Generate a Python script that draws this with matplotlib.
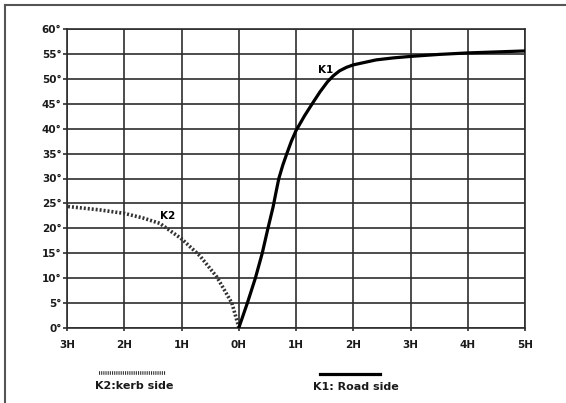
import numpy as np
import matplotlib.pyplot as plt
from matplotlib.lines import Line2D

# K1: road side (H distance, angle in degrees)
k1_h = [0, 0.15, 0.29, 0.41, 0.51, 0.60, 0.65, 0.70, 0.77, 0.84, 0.92, 1.0, 1.15,
        1.30, 1.42, 1.55, 1.65, 1.76, 1.88, 2.0, 2.2, 2.4, 2.7, 3.0, 3.5, 4.0,
        4.5, 5.0]
k1_deg = [0, 5, 10, 15, 20, 24.3, 27.2, 30, 32.7, 35, 37.5, 39.6, 42.6,
          45.3, 47.4, 49.4, 50.6, 51.6, 52.3, 52.8, 53.3, 53.8, 54.2, 54.5, 54.9, 55.2,
          55.4, 55.6]

# K2: kerb side (negative H = kerb side)
k2_h = [0, -0.02, -0.12, -0.38, -0.68, -1.0, -1.38, -1.68, -2.0, -2.43, -3.0]
k2_deg = [0, 1, 5, 10.2, 14.5, 17.9, 21.0, 22.1, 23.0, 23.7, 24.4]

xticks = [-3, -2, -1, 0, 1, 2, 3, 4, 5]
xlabels = ["3H", "2H", "1H", "0H", "1H", "2H", "3H", "4H", "5H"]
yticks = list(range(0, 61, 5))
ylabels = [f"{v}°" for v in yticks]

grid_c = "#2e2e2e"
fig = plt.figure(figsize=(5.66, 4.03), dpi=100)
ax = fig.add_axes([67/566, 1-328/403, (525-67)/566, (328-29)/403])

ax.plot(k2_h, k2_deg, color="#333333", lw=2.6, linestyle=(0, (0.55, 0.55)),
        solid_capstyle="butt", zorder=3)
ax.plot(k1_h, k1_deg, color="black", lw=2.3, solid_capstyle="round",
        solid_joinstyle="round", zorder=4)

ax.set_xlim(-3, 5)
ax.set_ylim(0, 60)
ax.set_xticks(xticks)
ax.set_xticklabels(xlabels)
ax.set_yticks(yticks)
ax.set_yticklabels(ylabels)
ax.grid(True, color=grid_c, lw=1.2)
ax.set_axisbelow(True)
for s in ax.spines.values():
    s.set_color(grid_c)
    s.set_linewidth(1.2)
ax.tick_params(axis="y", length=3, width=1.2, color=grid_c, pad=1)
ax.tick_params(axis="x", length=2, width=1.2, color=grid_c, pad=7)
for lab in ax.get_xticklabels() + ax.get_yticklabels():
    lab.set_fontweight("bold")
    lab.set_fontsize(7.5)
    lab.set_color("#1a1a1a")

ax.text(1.52, 51.8, "K1", fontsize=7.5, fontweight="bold", ha="center", va="center")
ax.text(-1.24, 22.5, "K2", fontsize=7.5, fontweight="bold", ha="center", va="center")

# legend below the chart
fig.add_artist(Line2D([99/566, 166/566], [1-373/403, 1-373/403], color="#333333",
                      lw=2.6, linestyle=(0, (0.3, 0.3))))
fig.add_artist(Line2D([320/566, 380/566], [1-374/403, 1-374/403], color="black", lw=2.3))
fig.text(134/566, 1-386/403, "K2:kerb side", fontsize=8, fontweight="bold",
         ha="center", va="center", color="#1a1a1a")
fig.text(356/566, 1-387/403, "K1: Road side", fontsize=8, fontweight="bold",
         ha="center", va="center", color="#1a1a1a")

# scanned page border (top and left)
fig.add_artist(Line2D([5/566, 1], [1-5/403, 1-5/403], color="#555555", lw=1.5))
fig.add_artist(Line2D([5/566, 5/566], [0, 1-5/403], color="#555555", lw=1.5))

fig.savefig("out.png", dpi=100)
